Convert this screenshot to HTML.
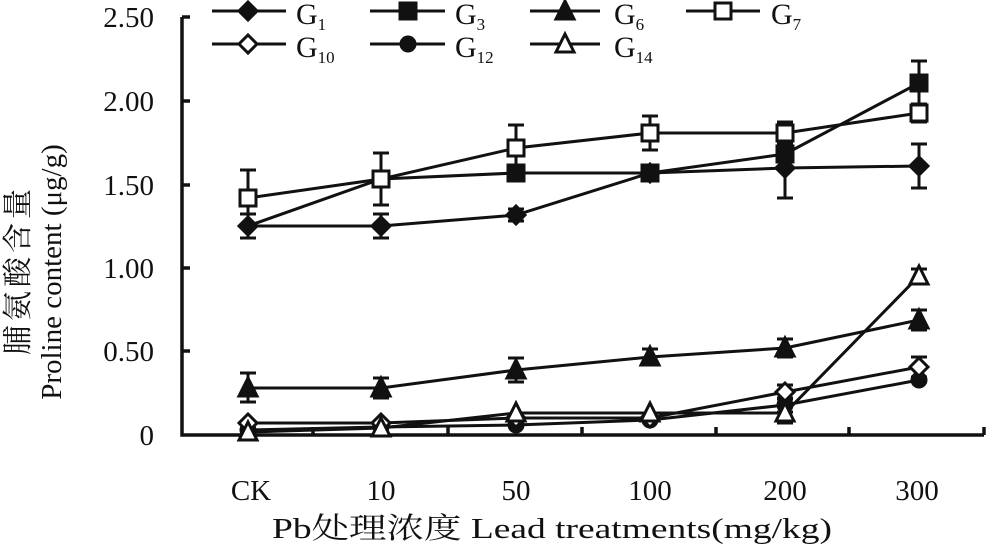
<!DOCTYPE html><html><head><style>body{margin:0;background:#fff}svg{display:block}text{font-family:"Liberation Serif","Noto Serif CJK SC",serif;fill:#111}</style></head><body>
<svg width="987" height="547" xmlns="http://www.w3.org/2000/svg">
<g stroke="#111" stroke-width="3.5" fill="none">
<path d="M182 17V435H984"/>
<path d="M182 17h8M182 101h8M182 185h8M182 268h8M182 351h8"/>
<path d="M313 435v-8M448 435v-8M582 435v-8M716 435v-8M849 435v-8M984 435v-8"/>
</g>
<g font-size="29" text-anchor="end">
<text x="154" y="27">2.50</text><text x="154" y="111">2.00</text><text x="154" y="195">1.50</text><text x="154" y="278">1.00</text><text x="154" y="361">0.50</text><text x="154" y="445">0</text></g>
<g font-size="29" text-anchor="middle">
<text x="251" y="500">CK</text><text x="381" y="500">10</text><text x="516" y="500">50</text><text x="650" y="500">100</text><text x="785" y="500">200</text><text x="917" y="500">300</text>
<text x="552" y="538" textLength="560" lengthAdjust="spacingAndGlyphs">Pb处理浓度 Lead treatments(mg/kg)</text></g>
<text transform="translate(28,270) rotate(-90)" font-size="30" text-anchor="middle" letter-spacing="4">脯氨酸含量</text>
<text transform="translate(61,272) rotate(-90)" font-size="29" text-anchor="middle">Proline content (μg/g)</text>
<defs>
<path id="dia" d="M0-9L9 0 0 9-9 0Z"/>
<rect id="sq" x="-8" y="-8" width="16" height="16"/>
<path id="tri" d="M0-10L9 8H-9Z"/>
<circle id="ci" r="7"/>
</defs>
<g stroke="#111" stroke-width="3">
<g fill="none">
<!-- G7 -->
<path d="M248 170v56M240 170h16M240 226h16"/>
<path d="M381 153v52M373 153h16M373 205h16"/>
<path d="M516 125v46M508 125h16M508 171h16"/>
<path d="M650 116v34M642 116h16M642 150h16"/>
<path d="M785 122v22M777 122h16M777 144h16"/>
<path d="M919 104v18M911 104h16M911 122h16"/>
<!-- G1 -->
<path d="M248 214v24M240 214h16M240 238h16"/>
<path d="M381 214v24M373 214h16M373 238h16"/>
<path d="M516 209v12M508 209h16M508 221h16"/>
<path d="M650 167v12M642 167h16M642 179h16"/>
<path d="M785 140v58M777 140h16M777 198h16"/>
<path d="M919 144v44M911 144h16M911 188h16"/>
<!-- G3 -->
<path d="M919 61v44M911 61h16M911 105h16"/>
<path d="M785 146v16M777 146h16M777 162h16"/>
<!-- G6 -->
<path d="M248 373v29M240 373h16M240 402h16"/>
<path d="M381 378v20M373 378h16M373 398h16"/>
<path d="M516 358v24M508 358h16M508 382h16"/>
<path d="M650 349v16M642 349h16M642 365h16"/>
<path d="M785 339v18M777 339h16M777 357h16"/>
<path d="M919 310v20M911 310h16M911 330h16"/>
<!-- G14 / G10 -->
<path d="M919 269v14M911 269h16M911 283h16"/>
<path d="M785 403v20M777 403h16M777 423h16"/>
<path d="M785 385v14M777 385h16M777 399h16"/>
<path d="M919 357v20M911 357h16M911 377h16"/>
<path d="M785 398v14M777 398h16M777 412h16"/>
</g>
<g fill="none">
<polyline points="248,226 381,226 516,215 650,173 785,168 919,166"/>
<polyline points="248,226 381,179 516,173 650,173 785,154 919,83"/>
<polyline points="248,388 381,388 516,370 650,357 785,348 919,320"/>
<polyline points="248,198 381,179 516,148 650,133 785,133 919,113"/>
<polyline points="248,423 381,423 516,418 650,418 785,392 919,367"/>
<polyline points="248,430 381,427 516,425 650,420 785,405 919,380"/>
<polyline points="248,432 381,428 516,413 650,413 785,413 919,276"/>
</g>
<g fill="#111">
<use href="#dia" x="248" y="226"/><use href="#dia" x="381" y="226"/><use href="#dia" x="516" y="215"/><use href="#dia" x="650" y="173"/><use href="#dia" x="785" y="168"/><use href="#dia" x="919" y="166"/>
<use href="#sq" x="381" y="179"/><use href="#sq" x="516" y="173"/><use href="#sq" x="650" y="173"/><use href="#sq" x="785" y="154"/><use href="#sq" x="919" y="83"/>
<use href="#tri" x="248" y="388"/><use href="#tri" x="381" y="388"/><use href="#tri" x="516" y="370"/><use href="#tri" x="650" y="357"/><use href="#tri" x="785" y="348"/><use href="#tri" x="919" y="320"/>
<use href="#ci" x="248" y="430"/><use href="#ci" x="381" y="427"/><use href="#ci" x="516" y="425"/><use href="#ci" x="650" y="420"/><use href="#ci" x="785" y="405"/><use href="#ci" x="919" y="380"/>
</g>
<g fill="#fff">
<use href="#sq" x="248" y="198"/><use href="#sq" x="381" y="179"/><use href="#sq" x="516" y="148"/><use href="#sq" x="650" y="133"/><use href="#sq" x="785" y="133"/><use href="#sq" x="919" y="113"/>
<use href="#dia" x="248" y="423"/><use href="#dia" x="381" y="423"/><use href="#dia" x="516" y="418"/><use href="#dia" x="650" y="418"/><use href="#dia" x="785" y="392"/><use href="#dia" x="919" y="367"/>
<use href="#tri" x="248" y="432"/><use href="#tri" x="381" y="428"/><use href="#tri" x="516" y="413"/><use href="#tri" x="650" y="413"/><use href="#tri" x="785" y="413"/><use href="#tri" x="919" y="276"/>
</g>
<path d="M212 11h74M370 11h75M530 11h70M686 11h74M212 44h74M370 44h75M530 44h70"/>
<use href="#dia" x="248" y="11" fill="#111"/><use href="#sq" x="408" y="11" fill="#111"/><use href="#tri" x="565" y="11" fill="#111"/><use href="#sq" x="723" y="11" fill="#fff"/>
<use href="#dia" x="248" y="44" fill="#fff"/><use href="#ci" x="408" y="44" fill="#111"/><use href="#tri" x="565" y="44" fill="#fff"/>
</g>
<g font-size="30">
<text x="296" y="24">G<tspan font-size="17" dy="6">1</tspan></text>
<text x="455" y="24">G<tspan font-size="17" dy="6">3</tspan></text>
<text x="614" y="24">G<tspan font-size="17" dy="6">6</tspan></text>
<text x="771" y="24">G<tspan font-size="17" dy="6">7</tspan></text>
<text x="296" y="57">G<tspan font-size="17" dy="6">10</tspan></text>
<text x="455" y="57">G<tspan font-size="17" dy="6">12</tspan></text>
<text x="614" y="57">G<tspan font-size="17" dy="6">14</tspan></text>
</g>
</svg></body></html>
